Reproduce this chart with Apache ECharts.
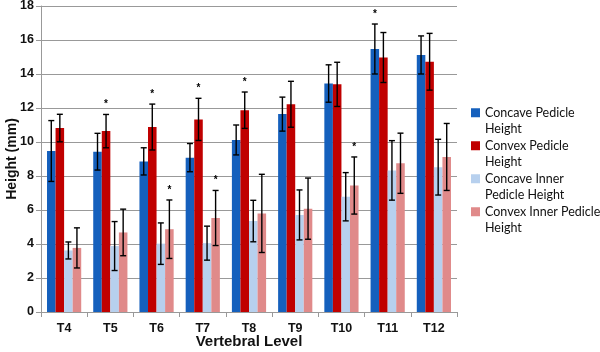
<!DOCTYPE html>
<html>
<head>
<meta charset="utf-8">
<script src="https://cdn.jsdelivr.net/npm/echarts@6/dist/echarts.min.js"></script>
<style>
  html, body { margin: 0; padding: 0; background: #fff; }
  #chart { width: 600px; height: 352px; }
</style>
</head>
<body>
<div id="chart"></div>
<script>
const levels = ['T4', 'T5', 'T6', 'T7', 'T8', 'T9', 'T10', 'T11', 'T12'];

const concave = [9.47, 9.43, 8.86, 9.08, 10.12, 11.64, 13.44, 15.47, 15.12];
const concaveErr = [1.79, 1.08, 0.8, 0.83, 0.88, 1.0, 1.1, 1.47, 1.12];
const convex = [10.82, 10.64, 10.88, 11.33, 11.87, 12.22, 13.39, 14.97, 14.72];
const convexErr = [0.81, 0.98, 1.35, 1.24, 1.07, 1.35, 1.3, 1.47, 1.67];
const concaveInner = [3.62, 3.88, 4.02, 4.05, 5.35, 5.71, 6.78, 8.33, 8.52];
const concaveInnerErr = [0.5, 1.44, 1.22, 1.0, 1.22, 1.47, 1.42, 1.75, 1.64];
const convexInner = [3.77, 4.68, 4.87, 5.53, 5.8, 6.08, 7.44, 8.75, 9.12];
const convexInnerErr = [1.18, 1.37, 1.72, 1.62, 2.3, 1.8, 1.68, 1.77, 1.97];

// significance asterisks (1 = shown above that bar)
const sigConcave = [0, 0, 0, 0, 0, 0, 0, 1, 0];
const sigConvex = [0, 1, 1, 1, 1, 0, 0, 0, 0];
const sigConcaveInner = [0, 0, 0, 0, 0, 0, 0, 0, 0];
const sigConvexInner = [0, 0, 1, 1, 0, 0, 1, 0, 0];

const names = ['Concave Pedicle Height', 'Convex Pedicle Height', 'Concave Inner Pedicle Height', 'Convex Inner Pedicle Height'];
// leading blank line keeps the icon level with the first text line
const legendText = [' \nConcave Pedicle\nHeight', ' \nConvex Pedicle\nHeight', ' \nConcave Inner\nPedicle Height', ' \nConvex Inner Pedicle\nHeight'];
const colors = ['#1560bd', '#c00000', '#b7d0ee', '#e08a8a'];

const values = [concave, convex, concaveInner, convexInner];
const errs = [concaveErr, convexErr, concaveInnerErr, convexInnerErr];
const sigs = [sigConcave, sigConvex, sigConcaveInner, sigConvexInner];

const catGap = 0.26;

let chart = echarts.init(document.getElementById('chart'));

const barSeries = values.map((v, i) => ({
    name: names[i],
    type: 'bar',
    data: v,
    barGap: '0%',
    barCategoryGap: (catGap * 100) + '%',
    itemStyle: { color: colors[i] },
    z: 2
}));

const errSeries = values.map((v, i) => ({
    type: 'custom',
    name: 'err' + i,
    z: 5,
    silent: true,
    data: v.map((val, k) => [k, val, errs[i][k], sigs[i][k]]),
    renderItem: (params, api) => {
        const k = api.value(0);
        const band = api.size([1, 0])[0];
        const bw = band * (1 - catGap) / 4;
        const center = api.coord([k, 0])[0] + (i - 1.5) * bw;
        const top = api.coord([k, api.value(1) + api.value(2)])[1];
        const bot = api.coord([k, api.value(1) - api.value(2)])[1];
        const cap = 3;
        const st = { stroke: '#000', lineWidth: 1.4 };
        const kids = [
            { type: 'line', shape: { x1: center, y1: top, x2: center, y2: bot }, style: st },
            { type: 'line', shape: { x1: center - cap, y1: top, x2: center + cap, y2: top }, style: st },
            { type: 'line', shape: { x1: center - cap, y1: bot, x2: center + cap, y2: bot }, style: st }
        ];
        if (api.value(3)) {
            kids.push({
                type: 'text',
                style: {
                    text: '*', x: center, y: top - 10, align: 'center', verticalAlign: 'middle',
                    fill: '#000', font: 'bold 10px "Liberation Sans"'
                }
            });
        }
        return { type: 'group', children: kids };
    }
}));

const legendTops = [83, 116, 149, 182];

const option = {
    animation: false,
    textStyle: { fontFamily: 'Liberation Sans' },
    grid: { left: 41, right: 143, top: 6, bottom: 40, containLabel: false, outerBoundsMode: 'none' },
    legend: names.map((n, i) => ({
        data: [n],
        left: 466,
        top: legendTops[i],
        itemWidth: 9,
        itemHeight: 9,
        icon: 'rect',
        formatter: () => legendText[i],
        textStyle: {
            fontFamily: 'Lato',
            fontSize: 12.5,
            color: '#111',
            lineHeight: 16.5
        }
    })),
    xAxis: {
        type: 'category',
        data: levels,
        name: 'Vertebral Level',
        nameLocation: 'middle',
        nameGap: 22,
        nameMoveOverlap: false,
        nameTextStyle: { fontWeight: 'bold', fontSize: 15, color: '#111' },
        axisLine: { lineStyle: { color: '#999', width: 1 } },
        axisTick: { show: true, length: 5, lineStyle: { color: '#999' } },
        axisLabel: { fontWeight: 'bold', fontSize: 12.5, color: '#111', margin: 10 }
    },
    yAxis: {
        type: 'value',
        min: 0,
        max: 18,
        interval: 2,
        name: 'Height (mm)',
        nameLocation: 'middle',
        nameGap: 22,
        nameMoveOverlap: false,
        nameTextStyle: { fontWeight: 'bold', fontSize: 14, color: '#111' },
        axisLine: { show: true, lineStyle: { color: '#999', width: 1 } },
        axisTick: { show: true, length: 5, lineStyle: { color: '#999' } },
        axisLabel: { fontWeight: 'bold', fontSize: 12.5, color: '#111', margin: 7 },
        splitLine: { lineStyle: { color: '#999', width: 1.2 } }
    },
    series: barSeries.concat(errSeries)
};

option && chart.setOption(option);
window.addEventListener('resize', chart.resize);
</script>
</body>
</html>
